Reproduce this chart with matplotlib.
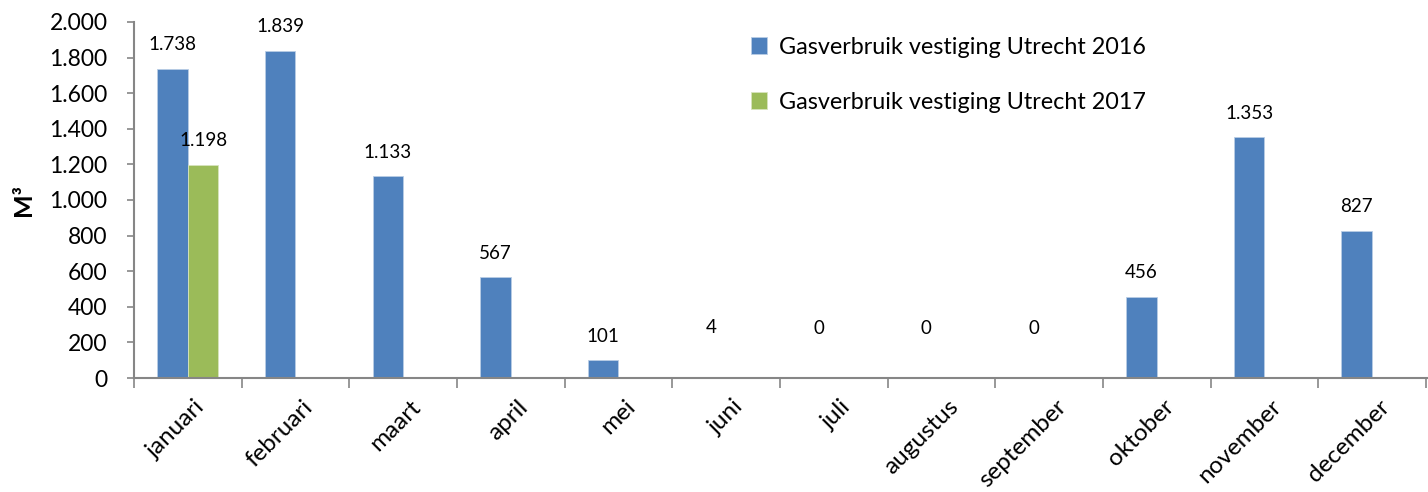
import numpy as np
import matplotlib
matplotlib.use("Agg")
import matplotlib.pyplot as plt
from matplotlib.ticker import FuncFormatter

plt.rcParams['font.family'] = ['Lato', 'DejaVu Sans']

months = ['januari', 'februari', 'maart', 'april', 'mei', 'juni', 'juli',
          'augustus', 'september', 'oktober', 'november', 'december']
gas_2016 = [1738, 1839, 1133, 567, 101, 4, 0, 0, 0, 456, 1353, 827]
gas_2017 = [1198]  # alleen januari bekend
label_2016 = 'Gasverbruik vestiging Utrecht 2016'
label_2017 = 'Gasverbruik vestiging Utrecht 2017'

blue = '#4F81BD'
green = '#9BBB59'
axis_grey = '#868686'


def nl_thousands(v, pos=None):
    return f'{v:,.0f}'.replace(',', '.')


fig = plt.figure(figsize=(14.28, 4.92), dpi=100)
ax = fig.add_axes([0.0938, 0.2317, 0.9062, 0.7236])

x = np.arange(len(months))
w = 0.284
ax.bar(x - w / 2, gas_2016, w, color=blue, edgecolor='#B9CDE5',
       linewidth=0.6, label=label_2016)
x17 = x[:len(gas_2017)]
ax.bar(x17 + w / 2, gas_2017, w, color=green, edgecolor='#D7E4BD',
       linewidth=0.6, label=label_2017)

# datalabels boven de balken
for xi, v in zip(x - w / 2, gas_2016):
    off = 50 if v < 50 else 24
    ax.annotate(nl_thousands(v), (xi, v), xytext=(0, off), textcoords='offset pixels',
                ha='center', va='center', fontsize=13.5)
for xi, v in zip(x17 + w / 2, gas_2017):
    ax.annotate(nl_thousands(v), (xi, v), xytext=(0, 24), textcoords='offset pixels',
                ha='center', va='center', fontsize=13.5)

ax.set_xlim(-0.5, len(months) - 0.48)
ax.set_ylim(0, 2000)
ax.set_yticks(np.arange(0, 2001, 200))
ax.yaxis.set_major_formatter(FuncFormatter(nl_thousands))
ax.tick_params(axis='y', labelsize=16.5, length=5, width=1.2, color=axis_grey, pad=14)

# streepjes tussen de categorieen, labels in het midden
ax.set_xticks(np.arange(len(months) + 1) - 0.5)
ax.set_xticklabels([])
ax.set_xticks(x + 0.06, minor=True)
ax.set_xticklabels(months, minor=True, rotation=45, ha='right',
                   rotation_mode='anchor', fontsize=17.5)
ax.tick_params(axis='x', which='major', length=7, width=1.2, color=axis_grey)
ax.tick_params(axis='x', which='minor', length=0, pad=13)

for s in ['top', 'right']:
    ax.spines[s].set_visible(False)
for s in ['left', 'bottom']:
    ax.spines[s].set_color(axis_grey)
    ax.spines[s].set_linewidth(1.5)

ax.set_ylabel('M³', fontsize=18, fontweight='bold', labelpad=10)

ax.legend(loc='upper left', bbox_to_anchor=(0.511, 0.968), bbox_transform=fig.transFigure,
          frameon=False, fontsize=16.8, handlelength=0.7, handleheight=0.7,
          handletextpad=0.5, labelspacing=1.45)

fig.savefig('out.png', dpi=100)
